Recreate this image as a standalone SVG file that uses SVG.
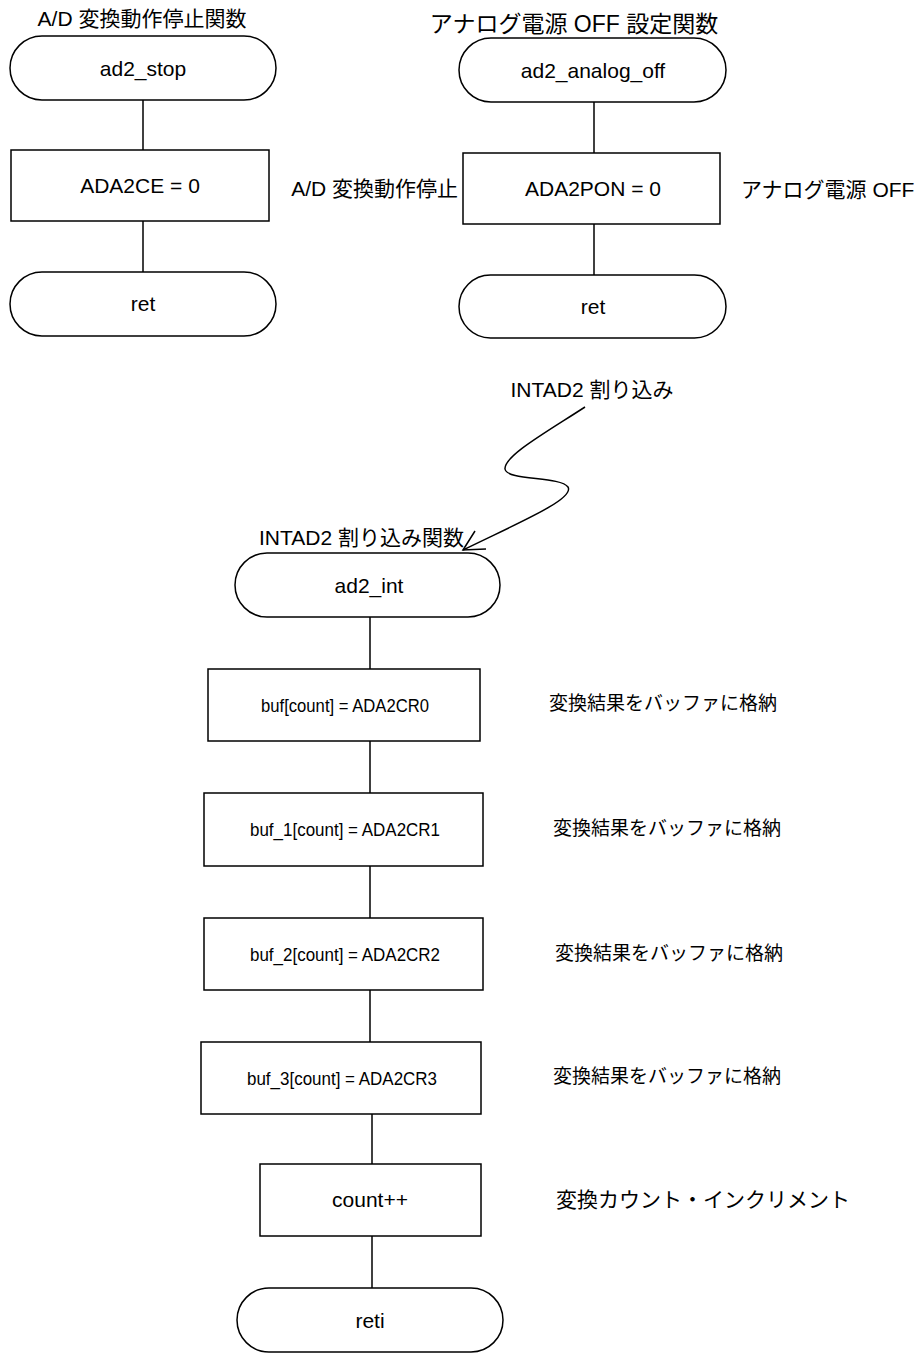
<svg xmlns="http://www.w3.org/2000/svg" width="920" height="1353" viewBox="0 0 920 1353">
<style>
.s{fill:#fff;stroke:#000;stroke-width:1.5}
.c{stroke:#000;stroke-width:1.5;fill:none}
text{font-family:"Liberation Sans","Noto Sans CJK JP",sans-serif;fill:#000;font-size:21px}
.m{text-anchor:middle}
.r{text-anchor:end}
.bt{font-size:19px;text-anchor:middle}
.lb{font-size:19px}
</style>
<rect width="920" height="1353" fill="#fff"/>
<g id="connectors">
<line class="c" x1="143" y1="100" x2="143" y2="150"/>
<line class="c" x1="143" y1="221" x2="143" y2="272"/>
<line class="c" x1="594" y1="102" x2="594" y2="153"/>
<line class="c" x1="594" y1="224" x2="594" y2="275"/>
<path class="c" d="M585,407 C545,433 504,456 505,469 C507,481 560,476 568,487 C575,499 520,522 463,550" stroke-width="2"/>
<path class="c" d="M475,531 L463,550 L486,549" stroke-width="2"/>
<line class="c" x1="370" y1="617" x2="370" y2="669"/>
<line class="c" x1="370" y1="741" x2="370" y2="793"/>
<line class="c" x1="370" y1="866" x2="370" y2="918"/>
<line class="c" x1="370" y1="990" x2="370" y2="1042"/>
<line class="c" x1="372" y1="1114" x2="372" y2="1164"/>
<line class="c" x1="372" y1="1236" x2="372" y2="1288"/>
</g>
<g id="title-stop"><text class="m" x="142" y="26">A/D 変換動作停止関数</text></g>
<g id="ad2_stop"><rect class="s" x="10" y="36" width="266" height="64" rx="32"/><text class="m" x="143" y="76">ad2_stop</text></g>
<g id="ada2ce"><rect class="s" x="11" y="150" width="258" height="71"/><text class="m" x="140" y="193">ADA2CE = 0</text></g>
<g id="ret1"><rect class="s" x="10" y="272" width="266" height="64" rx="32"/><text class="m" x="143" y="311">ret</text></g>
<g id="title-off"><text class="m" x="574" y="32" style="font-size:23px">アナログ電源 OFF 設定関数</text></g>
<g id="ad2_analog_off"><rect class="s" x="459" y="38" width="267" height="64" rx="32"/><text class="m" x="593" y="78">ad2_analog_off</text></g>
<g id="ada2pon"><rect class="s" x="463" y="153" width="257" height="71"/><text class="m" x="593" y="196">ADA2PON = 0</text></g>
<g id="lbl-stop"><text class="r" x="458" y="196">A/D 変換動作停止</text></g>
<g id="lbl-off"><text x="741" y="197">アナログ電源 OFF</text></g>
<g id="ret2"><rect class="s" x="459" y="275" width="267" height="63" rx="31.5"/><text class="m" x="593" y="314">ret</text></g>
<g id="intad2"><text class="m" x="592" y="397">INTAD2 割り込み</text></g>
<g id="title-int"><text x="259" y="545">INTAD2 割り込み関数</text></g>
<g id="ad2_int"><rect class="s" x="235" y="553" width="265" height="64" rx="32"/><text class="m" x="369" y="593">ad2_int</text></g>
<g id="buf0"><rect class="s" x="208" y="669" width="272" height="72"/><text class="bt" x="345" y="712" textLength="168" lengthAdjust="spacingAndGlyphs">buf[count] = ADA2CR0</text><text class="lb" x="549" y="710">変換結果をバッファに格納</text></g>
<g id="buf1"><rect class="s" x="204" y="793" width="279" height="73"/><text class="bt" x="345" y="836" textLength="190" lengthAdjust="spacingAndGlyphs">buf_1[count] = ADA2CR1</text><text class="lb" x="553" y="835">変換結果をバッファに格納</text></g>
<g id="buf2"><rect class="s" x="204" y="918" width="279" height="72"/><text class="bt" x="345" y="961" textLength="190" lengthAdjust="spacingAndGlyphs">buf_2[count] = ADA2CR2</text><text class="lb" x="555" y="960">変換結果をバッファに格納</text></g>
<g id="buf3"><rect class="s" x="201" y="1042" width="280" height="72"/><text class="bt" x="342" y="1085" textLength="190" lengthAdjust="spacingAndGlyphs">buf_3[count] = ADA2CR3</text><text class="lb" x="553" y="1083">変換結果をバッファに格納</text></g>
<g id="count"><rect class="s" x="260" y="1164" width="221" height="72"/><text class="m" x="370" y="1207">count++</text><text x="556" y="1207">変換カウント・インクリメント</text></g>
<g id="reti"><rect class="s" x="237" y="1288" width="266" height="64" rx="32"/><text class="m" x="370" y="1328">reti</text></g>
</svg>
